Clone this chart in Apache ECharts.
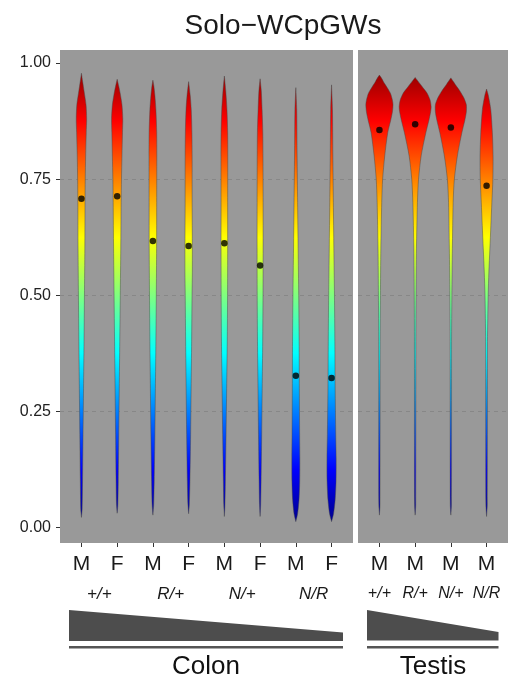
<!DOCTYPE html>
<html>
<head>
<meta charset="utf-8">
<script src="https://cdn.jsdelivr.net/npm/echarts@6/dist/echarts.min.js"></script>
<style>
html, body { margin: 0; background: #fff; }
#main { width: 508px; height: 680px; }
</style>
</head>
<body>
<div id="main"></div>
<script>
var colonSex = ['M', 'F', 'M', 'F', 'M', 'F', 'M', 'F'];
var colonGeno = ['+/+', 'R/+', 'N/+', 'N/R'];
var testisSex = ['M', 'M', 'M', 'M'];
var testisGeno = ['+/+', 'R/+', 'N/+', 'N/R'];
var colonMeans = [0.708, 0.713, 0.617, 0.606, 0.612, 0.564, 0.327, 0.322];
var testisMeans = [0.856, 0.868, 0.861, 0.736];
var yTicks = [0, 0.25, 0.5, 0.75, 1];

// violin outlines, [methylation, half width] with half width in px of a 35.7px slot
var colonViolins = [
  [[0.022,0],[0.04,0.7],[0.1,1.1],[0.2,1.6],[0.3,2.1],[0.4,2.6],[0.5,3.0],[0.6,3.4],[0.7,3.6],[0.75,3.8],[0.8,4.2],[0.85,4.8],[0.88,5.2],[0.91,4.6],[0.94,2.6],[0.96,1.2],[0.978,0]],
  [[0.031,0],[0.05,0.7],[0.1,1.1],[0.2,1.6],[0.3,2.1],[0.4,2.6],[0.5,3.1],[0.6,3.6],[0.7,4.0],[0.75,4.3],[0.8,4.8],[0.85,5.3],[0.88,5.6],[0.91,4.8],[0.935,3.0],[0.95,1.6],[0.965,0]],
  [[0.027,0],[0.05,0.8],[0.1,1.3],[0.2,2.0],[0.3,2.5],[0.4,3.0],[0.5,3.4],[0.6,3.7],[0.7,3.8],[0.8,3.9],[0.85,3.8],[0.9,3.0],[0.93,2.0],[0.95,1.0],[0.963,0]],
  [[0.03,0],[0.05,0.7],[0.1,1.3],[0.2,2.0],[0.3,2.5],[0.4,3.0],[0.5,3.4],[0.55,3.7],[0.6,3.7],[0.7,3.5],[0.8,3.5],[0.85,3.3],[0.9,2.6],[0.93,1.6],[0.96,0]],
  [[0.024,0],[0.05,0.6],[0.1,1.0],[0.2,1.7],[0.3,2.3],[0.4,2.9],[0.5,3.2],[0.6,3.3],[0.7,3.3],[0.8,3.4],[0.85,3.3],[0.9,2.6],[0.94,1.4],[0.972,0]],
  [[0.024,0],[0.05,0.6],[0.1,1.0],[0.2,1.6],[0.3,2.1],[0.4,2.6],[0.5,2.9],[0.6,3.0],[0.7,3.0],[0.8,2.9],[0.85,2.7],[0.9,2.0],[0.94,1.2],[0.966,0]],
  [[0.013,0],[0.03,1.8],[0.06,3.2],[0.1,3.9],[0.15,4.0],[0.2,3.8],[0.3,3.5],[0.4,3.3],[0.5,2.9],[0.6,2.3],[0.7,1.8],[0.8,1.3],[0.9,0.9],[0.947,0]],
  [[0.013,0],[0.03,2.0],[0.06,3.6],[0.1,4.5],[0.15,4.6],[0.2,4.2],[0.3,3.6],[0.4,3.3],[0.5,2.9],[0.6,2.3],[0.7,1.8],[0.8,1.3],[0.9,0.9],[0.953,0]]
];
var testisViolins = [
  [[0.027,0],[0.05,0.6],[0.4,0.7],[0.5,1.0],[0.6,1.4],[0.7,2.3],[0.75,3.2],[0.8,5.3],[0.85,8.3],[0.877,11.3],[0.895,13],[0.91,13.6],[0.92,13],[0.935,11],[0.948,7.5],[0.958,4.5],[0.966,2.5],[0.974,0]],
  [[0.027,0],[0.05,0.6],[0.4,0.7],[0.5,0.9],[0.6,1.3],[0.7,2.3],[0.75,3.4],[0.8,6.0],[0.85,10.7],[0.877,13.8],[0.895,15.5],[0.906,16],[0.92,15],[0.935,12],[0.945,8.5],[0.955,5],[0.962,2.5],[0.969,0]],
  [[0.027,0],[0.05,0.6],[0.4,0.7],[0.5,1.0],[0.6,1.5],[0.7,2.3],[0.75,3.5],[0.8,6.5],[0.85,11],[0.877,14],[0.895,15.5],[0.91,15.5],[0.925,13],[0.94,9],[0.952,5],[0.96,2.5],[0.968,0]],
  [[0.024,0],[0.05,0.7],[0.4,0.9],[0.45,1.2],[0.5,1.6],[0.55,2.3],[0.6,3.3],[0.65,4.3],[0.7,5.3],[0.75,6.3],[0.8,6.5],[0.85,5.8],[0.9,4.2],[0.93,1.8],[0.944,0]]
];

var FONT = '"Liberation Sans", Arial, sans-serif';
var jetStops = [
  { offset: 0, color: '#00007f' },
  { offset: 0.125, color: '#0000ff' },
  { offset: 0.375, color: '#00ffff' },
  { offset: 0.625, color: '#ffff00' },
  { offset: 0.875, color: '#ff0000' },
  { offset: 1, color: '#7f0000' }
];

function violinItem(profiles) {
  return function (params, api) {
    var idx = api.value(0);
    var k = api.size([1, 0])[0] / 35.7;
    var right = [], left = [];
    profiles[idx].forEach(function (p) {
      var c = api.coord([idx, p[0]]);
      right.push([c[0] + p[1] * k, c[1]]);
      left.unshift([c[0] - p[1] * k, c[1]]);
    });
    var y0 = api.coord([idx, 0])[1];
    var y1 = api.coord([idx, 1])[1];
    return {
      type: 'polygon',
      shape: { points: right.concat(left), smooth: 0.25 },
      style: {
        fill: new echarts.graphic.LinearGradient(0, y0, 0, y1, jetStops, true),
        stroke: 'rgba(70,70,70,0.75)',
        lineWidth: 0.6
      }
    };
  };
}

function sexAxis(grid, names, max) {
  return {
    gridIndex: grid, type: 'value', min: -0.6, max: max, position: 'bottom',
    axisLine: { show: false, onZero: false },
    splitLine: { show: false },
    axisTick: { show: true, length: 4, lineStyle: { color: '#333' }, customValues: names.map(function (n, i) { return i; }) },
    axisLabel: {
      customValues: names.map(function (n, i) { return i; }),
      formatter: function (v) { return names[Math.round(v)]; },
      fontSize: 21, color: '#1a1a1a', fontFamily: FONT, margin: 11
    }
  };
}

function genoAxis(grid, names, pos, max, size) {
  return {
    gridIndex: grid, type: 'value', min: -0.6, max: max, position: 'bottom', offset: 0,
    axisLine: { show: false, onZero: false }, axisTick: { show: false }, splitLine: { show: false },
    axisLabel: {
      customValues: pos,
      formatter: function (v) { return names[pos.indexOf(v)]; },
      fontSize: size, fontStyle: 'italic', color: '#1a1a1a', fontFamily: FONT, margin: 43
    }
  };
}

function valueAxis(grid, showLabels) {
  return {
    gridIndex: grid, type: 'value', min: -0.033, max: 1.028, position: 'left',
    axisLine: { show: false, onZero: false },
    axisTick: { show: showLabels, length: 4, lineStyle: { color: '#333' }, customValues: yTicks },
    axisLabel: {
      show: showLabels, customValues: yTicks,
      formatter: function (v) { return v.toFixed(2); },
      fontSize: 16, color: '#222', fontFamily: FONT, margin: 9
    },
    splitLine: {
      show: true,
      lineStyle: { type: [4, 4], width: 0.8, color: ['rgba(0,0,0,0)', '#838383', '#838383', '#838383', 'rgba(0,0,0,0)'] }
    }
  };
}

var myChart = echarts.init(document.getElementById('main'));
myChart.setOption({
  animation: false,
  grid: [
    { left: 60, top: 50, width: 293, height: 493, show: true, backgroundColor: '#999999', borderWidth: 0 },
    { left: 358, top: 50, width: 151, height: 493, show: true, backgroundColor: '#999999', borderWidth: 0 }
  ],
  xAxis: [
    sexAxis(0, colonSex, 7.6),
    sexAxis(1, testisSex, 3.6),
    genoAxis(0, colonGeno, [0.5, 2.5, 4.5, 6.5], 7.6, 17),
    genoAxis(1, testisGeno, [0, 1, 2, 3], 3.6, 16)
  ],
  yAxis: [valueAxis(0, true), valueAxis(1, false)],
  series: [
    {
      type: 'custom', xAxisIndex: 0, yAxisIndex: 0,
      renderItem: violinItem(colonViolins),
      data: colonViolins.map(function (v, i) { return [i]; })
    },
    {
      type: 'custom', xAxisIndex: 1, yAxisIndex: 1,
      renderItem: violinItem(testisViolins),
      data: testisViolins.map(function (v, i) { return [i]; })
    },
    {
      type: 'scatter', xAxisIndex: 0, yAxisIndex: 0, symbolSize: 6.5, z: 5,
      itemStyle: { color: '#000' },
      data: colonMeans.map(function (m, i) { return [i, m]; })
    },
    {
      type: 'scatter', xAxisIndex: 1, yAxisIndex: 1, symbolSize: 6.5, z: 5,
      itemStyle: { color: '#000' },
      data: testisMeans.map(function (m, i) { return [i, m]; })
    }
  ],
  graphic: [
    {
      type: 'text', x: 283, y: 26,
      style: { text: 'Solo\u2212WCpGWs', fontSize: 28, fill: '#1a1a1a', fontFamily: FONT, align: 'center', verticalAlign: 'middle' }
    },
    { type: 'polygon', shape: { points: [[69, 610], [343, 632.5], [343, 641], [69, 641]] }, style: { fill: '#4d4d4d' } },
    { type: 'rect', shape: { x: 69, y: 646, width: 274, height: 2.5 }, style: { fill: '#555' } },
    {
      type: 'text', x: 206, y: 667,
      style: { text: 'Colon', fontSize: 26, fill: '#111', fontFamily: FONT, align: 'center', verticalAlign: 'middle' }
    },
    { type: 'polygon', shape: { points: [[367, 610], [498.5, 632], [498.5, 640.5], [367, 640.5]] }, style: { fill: '#4d4d4d' } },
    { type: 'rect', shape: { x: 367, y: 646, width: 131.5, height: 2.5 }, style: { fill: '#555' } },
    {
      type: 'text', x: 433, y: 667,
      style: { text: 'Testis', fontSize: 26, fill: '#111', fontFamily: FONT, align: 'center', verticalAlign: 'middle' }
    }
  ]
});
window.addEventListener('resize', function () { myChart.resize(); });
</script>
</body>
</html>
